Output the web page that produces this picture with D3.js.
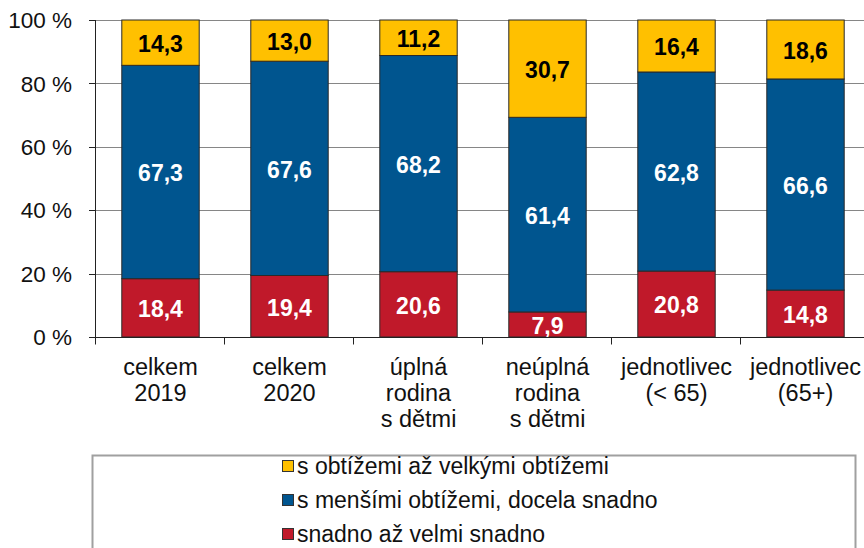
<!DOCTYPE html>
<html>
<head>
<meta charset="utf-8">
<script src="https://cdn.jsdelivr.net/npm/d3@7"></script>
<style>
  body { margin: 0; background: #fff; }
  svg { display: block; font-family: "Liberation Sans", Arial, sans-serif; }
</style>
</head>
<body>
<div id="chart"></div>
<script>
// categories (multi-line labels) and shares in %
const categories = [
  ["celkem", "2019"],
  ["celkem", "2020"],
  ["úplná", "rodina", "s dětmi"],
  ["neúplná", "rodina", "s dětmi"],
  ["jednotlivec", "(< 65)"],
  ["jednotlivec", "(65+)"]
];
const easyValues = [18.4, 19.4, 20.6, 7.9, 20.8, 14.8];
const mediumValues = [67.3, 67.6, 68.2, 61.4, 62.8, 66.6];
const hardValues = [14.3, 13.0, 11.2, 30.7, 16.4, 18.6];
const yTicks = [0, 20, 40, 60, 80, 100];

const seriesNames = ["snadno až velmi snadno", "s menšími obtížemi, docela snadno", "s obtížemi až velkými obtížemi"];
const seriesColors = ["#C0192A", "#00558F", "#FFC000"];
const labelColors = ["#fff", "#fff", "#000"];

const W = 864, H = 548;
const margin = { top: 20, left: 96, bottom: 211 };
const plotW = 774; // extends slightly past the window edge like the reference
const plotH = H - margin.top - margin.bottom;

const svg = d3.select("#chart").append("svg")
  .attr("width", W).attr("height", H);

const rows = categories.map((c, i) => ({
  key: i, easy: easyValues[i], medium: mediumValues[i], hard: hardValues[i]
}));
const stack = d3.stack().keys(["easy", "medium", "hard"]);
const stacked = stack(rows);

const x = d3.scaleBand().domain(d3.range(categories.length))
  .range([margin.left, margin.left + plotW]).paddingInner(0.4).paddingOuter(0.2);
const y = d3.scaleLinear().domain([0, 100]).range([margin.top + plotH, margin.top]);

// gridlines
svg.append("g").selectAll("line").data(yTicks.filter(d => d > 0)).join("line")
  .attr("x1", margin.left).attr("x2", margin.left + plotW)
  .attr("y1", d => Math.round(y(d)) + 0.5).attr("y2", d => Math.round(y(d)) + 0.5)
  .attr("stroke", "#868686").attr("stroke-width", 1);

// y axis
svg.append("g").selectAll("line").data(yTicks).join("line")
  .attr("x1", margin.left - 7).attr("x2", margin.left)
  .attr("y1", d => Math.round(y(d)) + 0.5).attr("y2", d => Math.round(y(d)) + 0.5)
  .attr("stroke", "#222");
svg.append("line")
  .attr("x1", margin.left - 0.5).attr("x2", margin.left - 0.5)
  .attr("y1", y(100)).attr("y2", y(0))
  .attr("stroke", "#222");
svg.append("g").selectAll("text").data(yTicks).join("text")
  .attr("x", 72).attr("y", d => y(d)).attr("dy", "0.36em")
  .attr("text-anchor", "end").attr("font-size", 22.5).attr("fill", "#111")
  .text(d => d + " %");

// bars
const groups = svg.append("g").selectAll("g").data(stacked).join("g")
  .attr("fill", (d, i) => seriesColors[i]);
groups.selectAll("rect").data(d => d).join("rect")
  .attr("x", (d, i) => x(i)).attr("width", x.bandwidth())
  .attr("y", d => y(d[1])).attr("height", d => y(d[0]) - y(d[1]))
  .attr("stroke", "#2a2a2a").attr("stroke-width", 1);

// value labels
stacked.forEach((s, si) => {
  svg.append("g").selectAll("text").data(s).join("text")
    .attr("x", (d, i) => x(i) + x.bandwidth() / 2)
    .attr("y", d => (y(d[0]) + y(d[1])) / 2 + 1)
    .attr("dy", "0.36em").attr("text-anchor", "middle")
    .attr("font-size", 23).attr("font-weight", "bold")
    .attr("fill", labelColors[si])
    .text(d => (d[1] - d[0]).toFixed(1).replace(".", ","));
});

// x axis
const baseY = Math.round(y(0)) + 0.5;
svg.append("line")
  .attr("x1", margin.left - 7).attr("x2", margin.left + plotW)
  .attr("y1", baseY).attr("y2", baseY).attr("stroke", "#222");
const step = x.step();
svg.append("g").selectAll("line").data(d3.range(categories.length + 1)).join("line")
  .attr("x1", i => margin.left - 0.5 + i * step).attr("x2", i => margin.left - 0.5 + i * step)
  .attr("y1", baseY).attr("y2", baseY + 7).attr("stroke", "#222");

const catLabels = svg.append("g").selectAll("text").data(categories).join("text")
  .attr("text-anchor", "middle").attr("font-size", 23.5).attr("fill", "#111");
catLabels.each(function(lines, i) {
  d3.select(this).selectAll("tspan").data(lines).join("tspan")
    .attr("x", x(i) + x.bandwidth() / 2)
    .attr("y", (d, j) => 375 + j * 26)
    .text(d => d);
});

// legend
svg.append("path")
  .attr("d", "M92.5,552 V455.5 H855.5 V552")
  .attr("fill", "none").attr("stroke", "#a0a0a0").attr("stroke-width", 2);
const legendOrder = [2, 1, 0];
const legend = svg.append("g").selectAll("g").data(legendOrder).join("g")
  .attr("transform", (d, i) => `translate(282, ${466 + i * 34})`);
legend.append("rect")
  .attr("x", 0.5).attr("y", -5.5).attr("width", 11).attr("height", 11)
  .attr("fill", d => seriesColors[d]).attr("stroke", "#333");
legend.append("text")
  .attr("x", 15).attr("y", 0).attr("dy", "0.36em")
  .attr("font-size", 23).attr("fill", "#111")
  .text(d => seriesNames[d]);
</script>
</body>
</html>
